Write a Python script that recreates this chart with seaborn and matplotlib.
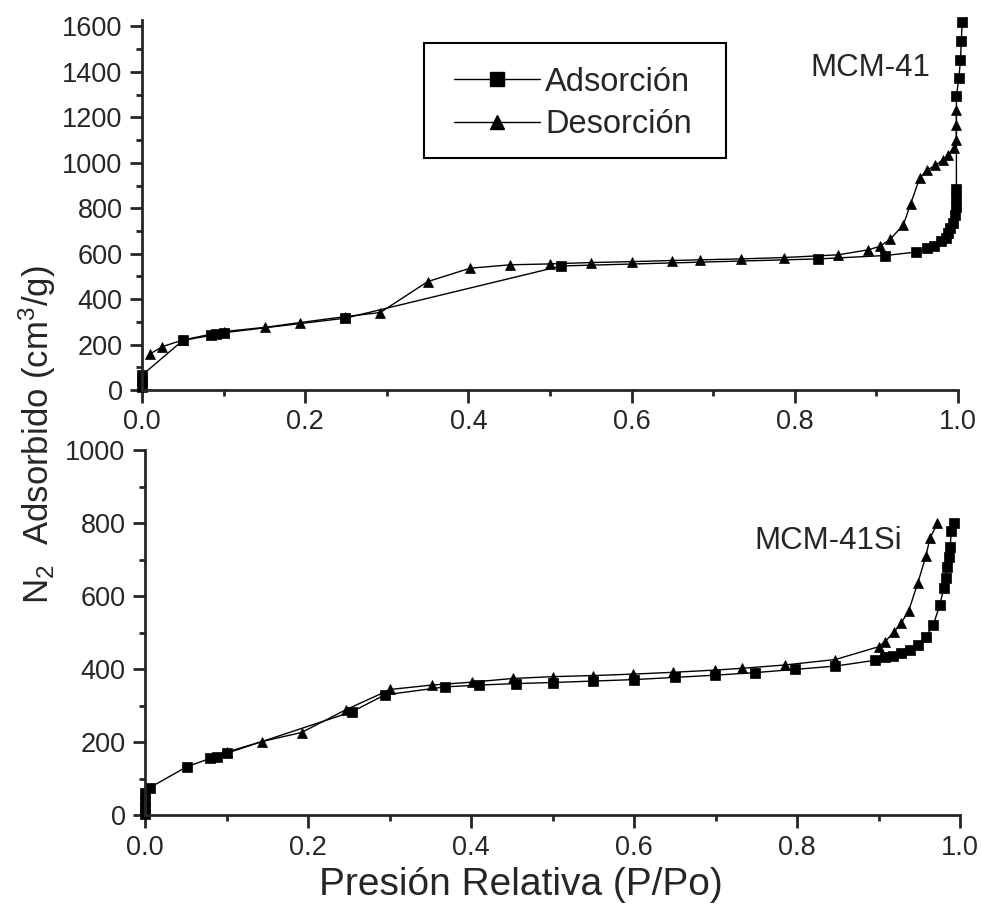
import pandas as pd
import matplotlib
matplotlib.use("Agg")
import matplotlib.pyplot as plt
import seaborn as sns
from matplotlib.lines import Line2D
from matplotlib.patches import Rectangle
from matplotlib.ticker import MultipleLocator

# MCM-41 (panel superior)
ads1_p = [0.0, 0.0, 0.0, 0.05, 0.084, 0.091, 0.10, 0.249, 0.514, 0.829, 0.911, 0.948, 0.962,
          0.971, 0.979, 0.985, 0.988, 0.990, 0.994, 0.996, 0.9975, 0.998, 0.998, 0.998,
          1.001, 1.003, 1.004, 1.005]
ads1_v = [15, 40, 65, 218, 240, 245, 252, 316, 546, 577, 592, 607, 624,
          635, 658, 668, 690, 712, 735, 771, 805, 845, 884, 1293,
          1373, 1454, 1535, 1619]
des1_p = [0.998, 0.998, 0.998, 0.995, 0.988, 0.981, 0.972, 0.962, 0.953, 0.942, 0.933,
          0.917, 0.904, 0.890, 0.853, 0.787, 0.734, 0.684, 0.650, 0.600, 0.550, 0.500,
          0.451, 0.402, 0.350, 0.292, 0.249, 0.194, 0.151, 0.100, 0.050, 0.025, 0.010]
des1_v = [1234, 1168, 1102, 1065, 1036, 1011, 989, 967, 933, 820, 727,
          664, 632, 617, 595, 583, 577, 573, 570, 565, 561, 555,
          551, 536, 477, 341, 323, 297, 276, 257, 220, 191, 159]

# MCM-41Si (panel inferior)
ads2_p = [0.0, 0.0, 0.0, 0.0, 0.006, 0.051, 0.080, 0.088, 0.100, 0.254, 0.294, 0.368,
          0.41, 0.455, 0.50, 0.55, 0.60, 0.65, 0.699, 0.748, 0.798, 0.847, 0.896, 0.908,
          0.918, 0.928, 0.938, 0.948, 0.958, 0.967, 0.975, 0.980, 0.983, 0.984, 0.986,
          0.988, 0.989, 0.992]
ads2_v = [5, 20, 40, 60, 76, 133, 156, 161, 170, 284, 330, 352,
          357, 361, 364, 368, 372, 378, 384, 391, 400, 409, 425, 433,
          436, 444, 453, 467, 489, 521, 576, 622, 649, 681, 709,
          736, 780, 800]
des2_p = [0.972, 0.963, 0.958, 0.948, 0.937, 0.928, 0.919, 0.908, 0.900, 0.847, 0.785,
          0.733, 0.699, 0.648, 0.599, 0.549, 0.500, 0.451, 0.401, 0.352, 0.301, 0.247,
          0.192, 0.143, 0.100]
des2_v = [800, 759, 710, 636, 561, 528, 503, 476, 462, 427, 412,
          403, 398, 392, 387, 383, 380, 375, 365, 357, 345, 290,
          227, 202, 173]

ramas = ["Adsorción", "Desorción"]
marcas = {"Adsorción": "s", "Desorción": "^"}

sns.set_style("ticks")
plt.rcParams["font.family"] = ["Liberation Sans", "DejaVu Sans"]
plt.rcParams["mathtext.default"] = "regular"


def armar(p_a, v_a, p_d, v_d):
    a = pd.DataFrame({"P": p_a, "V": v_a, "Rama": ramas[0]})
    d = pd.DataFrame({"P": p_d, "V": v_d, "Rama": ramas[1]})
    return pd.concat([a, d], ignore_index=True)


df1 = armar(ads1_p, ads1_v, des1_p, des1_v)
df2 = armar(ads2_p, ads2_v, des2_p, des2_v)

W, H = 982, 911
fig = plt.figure(figsize=(W / 100, H / 100), dpi=100)
ax1 = fig.add_axes([0.1446, 0.5719, 0.831, 0.4065])
ax2 = fig.add_axes([0.1477, 0.105, 0.830, 0.4006])

for ax, df in [(ax1, df1), (ax2, df2)]:
    sns.lineplot(data=df, x="P", y="V", style="Rama", markers=marcas, dashes=False,
                 sort=False, estimator=None, color="black", linewidth=1,
                 markersize=6.5, markeredgecolor="black", markeredgewidth=0.5,
                 legend=False, ax=ax, clip_on=False)
    ax.set_xlabel("")
    ax.set_ylabel("")
    ax.set_xlim(0, 1.0)
    ax.xaxis.set_major_locator(MultipleLocator(0.2))
    ax.xaxis.set_minor_locator(MultipleLocator(0.1))
    ax.xaxis.set_major_formatter(lambda v, pos: f"{v:.1f}")
    ax.yaxis.set_major_locator(MultipleLocator(200))
    ax.yaxis.set_minor_locator(MultipleLocator(100))
    ax.tick_params(which="major", direction="out", length=9, width=2, labelsize=19.5, pad=5)
    ax.tick_params(which="minor", direction="out", length=4.5, width=2)
    sns.despine(ax=ax)
    for s in ["left", "bottom"]:
        ax.spines[s].set_linewidth(2)

ax1.set_ylim(0, 1630)
ax2.set_ylim(0, 1000)

ax1.text(0.966, 1419, "MCM-41", ha="right", va="center", fontsize=22.5)
ax2.text(0.929, 751, "MCM-41Si", ha="right", va="center", fontsize=22.5)

# leyenda: marco dibujado aparte para fijar bien el tamaño de la caja
handles = [Line2D([], [], color="black", lw=1, marker=marcas[r], markersize=10,
                  markeredgecolor="black") for r in ramas]
fig.legend(handles, ramas, loc="center left", bbox_to_anchor=(454 / W, 1 - 103.5 / H),
           borderaxespad=0, borderpad=0, fontsize=23.5, handlelength=2.64,
           handletextpad=0.15, labelspacing=0.36, frameon=False)
fig.patches.append(Rectangle((424 / W, 1 - 158 / H), 302 / W, 115 / H, transform=fig.transFigure,
                             fill=False, lw=1.5, ec="black"))

fig.text(0.53, 0.0285, "Presión Relativa (P/Po)", ha="center", va="center", fontsize=28)
fig.text(0.038, 0.5225, "N$_2$  Adsorbido (cm$^3$/g)", ha="center", va="center",
         rotation=90, fontsize=25)

fig.savefig("out.png", dpi=100)
